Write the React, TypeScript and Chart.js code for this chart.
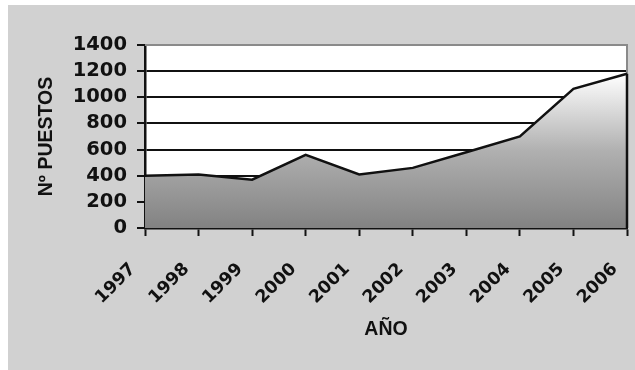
import React, { useEffect, useRef } from "react";
import { Chart, registerables } from "chart.js";

Chart.register(...registerables);

const years = ["1997", "1998", "1999", "2000", "2001", "2002", "2003", "2004", "2005", "2006"];
const puestos = [400, 410, 370, 560, 410, 460, 580, 700, 1065, 1180];
const yTitle = "Nº PUESTOS";
const xTitle = "AÑO";

const W = 627;
const H = 365;

export default function App() {
  const ref = useRef<HTMLCanvasElement | null>(null);

  useEffect(() => {
    if (!ref.current) return;
    const yTickFont = { family: "'DejaVu Sans', Verdana, sans-serif", size: 19.5, weight: "bold" as const };
    const xTickFont = { family: "'DejaVu Sans', Verdana, sans-serif", size: 17.5, weight: "bold" as const };
    const titleFont = { family: "'Liberation Sans', Arial, sans-serif", size: 19.5, weight: "bold" as const };

    const edgePlugin = {
      id: "edges",
      beforeDatasetsDraw(chart: any) {
        const { ctx, chartArea } = chart;
        ctx.save();
        ctx.strokeStyle = "#8a8a8a";
        ctx.lineWidth = 2;
        ctx.beginPath();
        ctx.moveTo(chartArea.left, chartArea.top);
        ctx.lineTo(chartArea.right, chartArea.top);
        ctx.lineTo(chartArea.right, chartArea.bottom);
        ctx.stroke();
        ctx.restore();
      },
      afterDatasetsDraw(chart: any) {
        const { ctx, chartArea, scales } = chart;
        const yLast = scales.y.getPixelForValue(puestos[puestos.length - 1]);
        ctx.save();
        ctx.strokeStyle = "#111111";
        ctx.lineWidth = 2.5;
        ctx.beginPath();
        ctx.moveTo(chartArea.right, yLast);
        ctx.lineTo(chartArea.right, chartArea.bottom);
        ctx.stroke();
        ctx.restore();
      },
    };

    const bgPlugin = {
      id: "plotbg",
      beforeDraw(chart: any) {
        const { ctx, chartArea } = chart;
        ctx.save();
        ctx.fillStyle = "#ffffff";
        ctx.fillRect(chartArea.left, chartArea.top, chartArea.right - chartArea.left, chartArea.bottom - chartArea.top);
        ctx.restore();
      },
    };

    const chart = new Chart(ref.current, {
      type: "line",
      data: {
        labels: years,
        datasets: [
          {
            data: puestos,
            fill: "origin",
            borderColor: "#111111",
            borderWidth: 2.5,
            pointRadius: 0,
            tension: 0,
            backgroundColor: (c: any) => {
              const ch = c.chart;
              const area = ch.chartArea;
              if (!area) return "#aaaaaa";
              const yTop = ch.scales.y.getPixelForValue(Math.max(...puestos));
              const g = ch.ctx.createLinearGradient(0, area.bottom, 0, yTop);
              g.addColorStop(0, "#828282");
              g.addColorStop(0.5, "#b0b0b0");
              g.addColorStop(1, "#ffffff");
              return g;
            },
          },
        ],
      },
      options: {
        animation: false,
        responsive: false,
        devicePixelRatio: 1,
        layout: { padding: { left: 27, right: 8, top: 40, bottom: 29 } },
        plugins: { legend: { display: false }, tooltip: { enabled: false } },
        scales: {
          y: {
            min: 0,
            max: 1400,
            afterFit: (s: any) => {
              s.width = 137 - 27;
              s.paddingTop = 0;
              s.paddingBottom = 0;
            },
            ticks: {
              stepSize: 200,
              autoSkip: false,
              font: yTickFont,
              color: "#111111",
              padding: 10,
              callback: (v: any) => String(v),
            },
            grid: {
              color: (c: any) => (c.tick && c.tick.value === 1400 ? "#8a8a8a" : "#111111"),
              lineWidth: 2,
              tickLength: 8,
              tickColor: "#111111",
              tickWidth: 2,
            },
            border: { color: "#111111", width: 2.5 },
            title: { display: true, text: yTitle, font: titleFont, color: "#111111", padding: 0 },
          },
          x: {
            type: "category",
            offset: false,
            afterFit: (s: any) => {
              s.height = H - 29 - 223;
              s.paddingLeft = 0;
              s.paddingRight = 0;
            },
            ticks: {
              autoSkip: false,
              minRotation: 45,
              maxRotation: 45,
              font: xTickFont,
              color: "#111111",
              padding: 23,
              labelOffset: -12,
            },
            grid: {
              drawOnChartArea: false,
              tickLength: 8,
              tickColor: "#111111",
              tickWidth: 2,
            },
            border: { color: "#111111", width: 2.5 },
            title: { display: true, text: xTitle, font: titleFont, color: "#111111", padding: 0 },
          },
        },
      },
      plugins: [bgPlugin, edgePlugin],
    } as any);
    return () => chart.destroy();
  }, []);

  return (
    <div
      style={{
        position: "fixed",
        left: 8,
        top: 5,
        width: W,
        height: H,
        background: "#d1d1d1",
      }}
    >
      <canvas ref={ref} width={W} height={H} style={{ display: "block", width: W, height: H }} />
    </div>
  );
}
